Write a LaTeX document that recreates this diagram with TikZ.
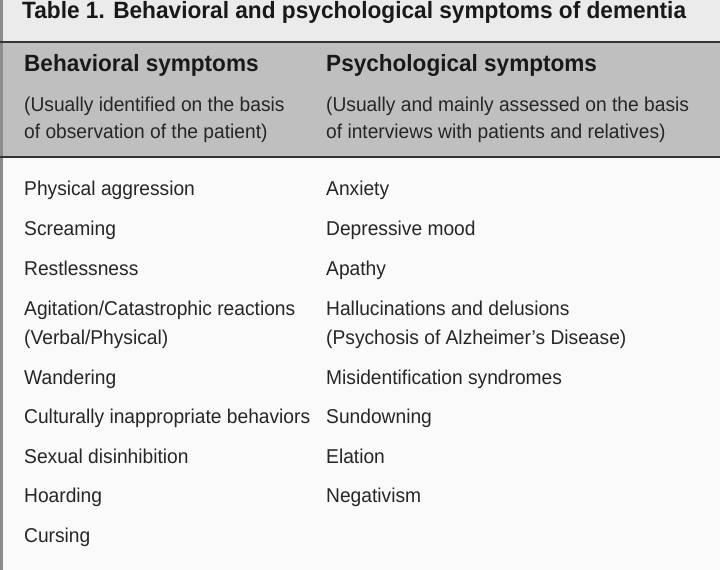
\documentclass[tikz,border=0pt]{standalone}
\usepackage{fontspec}
\setmainfont{Liberation Sans}[FakeStretch=0.96]
\begin{document}
\begin{tikzpicture}[x=1pt,y=-1pt,
  txt/.style={anchor=base west,inner sep=0pt,font=\fontsize{20}{24}\selectfont,text=black!85},
  hd/.style={anchor=base west,inner sep=0pt,font=\fontsize{23.5}{27}\selectfont\bfseries,text=black!90},
  rule/.style={line width=2.5pt,black!80}]
\useasboundingbox (0,0) rectangle (720,570);
\fill[black!8] (0,0) rectangle (720,42);
\fill[black!25] (0,42) rectangle (720,157);
\fill[black!2] (0,157) rectangle (720,570);
\fill[black!45] (0,0) rectangle (3,570);
\draw[rule] (0,42) -- (720,42);
\draw[rule] (0,157) -- (720,157);
\node[hd,font=\fontsize{23.6}{28}\selectfont\bfseries] (title) at (22,19) {Table 1. Behavioral and psychological symptoms of dementia};
\node[hd] (h1) at (24,71) {Behavioral symptoms};
\node[hd] (h2) at (326,71) {Psychological symptoms};
\node[txt] (s1a) at (24,111) {(Usually identified on the basis};
\node[txt] (s1b) at (24,138) {of observation of the patient)};
\node[txt] (s2a) at (326,111) {(Usually and mainly assessed on the basis};
\node[txt] (s2b) at (326,138) {of interviews with patients and relatives)};
\node[txt] (b1) at (24,195) {Physical aggression};
\node[txt] (b2) at (24,235) {Screaming};
\node[txt] (b3) at (24,275) {Restlessness};
\node[txt] (b4) at (24,315) {Agitation/Catastrophic reactions};
\node[txt] (b4b) at (24,344) {(Verbal/Physical)};
\node[txt] (b5) at (24,384) {Wandering};
\node[txt] (b6) at (24,423) {Culturally inappropriate behaviors};
\node[txt] (b7) at (24,463) {Sexual disinhibition};
\node[txt] (b8) at (24,502) {Hoarding};
\node[txt] (b9) at (24,542) {Cursing};
\node[txt] (p1) at (326,195) {Anxiety};
\node[txt] (p2) at (326,235) {Depressive mood};
\node[txt] (p3) at (326,275) {Apathy};
\node[txt] (p4) at (326,315) {Hallucinations and delusions};
\node[txt] (p4b) at (326,344) {(Psychosis of Alzheimer's Disease)};
\node[txt] (p5) at (326,384) {Misidentification syndromes};
\node[txt] (p6) at (326,423) {Sundowning};
\node[txt] (p7) at (326,463) {Elation};
\node[txt] (p8) at (326,502) {Negativism};
\end{tikzpicture}
\end{document}
